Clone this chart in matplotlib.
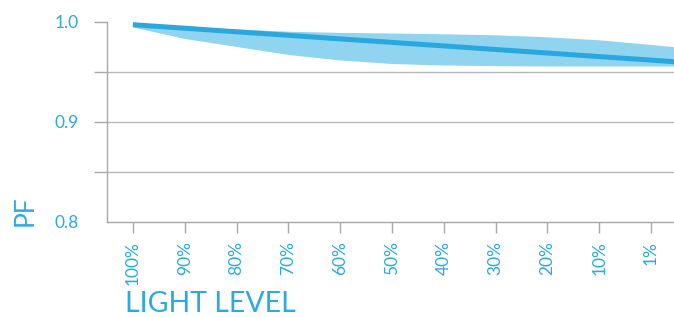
import matplotlib
matplotlib.use("Agg")
import matplotlib.pyplot as plt
import numpy as np

plt.rcParams['font.family'] = ['Lato', 'DejaVu Sans']

# Data; last point is a clipped continuation past the 1% category
categories = ["100%", "90%", "80%", "70%", "60%", "50%", "40%", "30%", "20%", "10%", "1%", ""]
pf_mean  = [0.9973, 0.9938, 0.9902, 0.9867, 0.9831, 0.9796, 0.9761, 0.9725, 0.9690, 0.9654, 0.9619, 0.9583]
pf_upper = [0.9975, 0.9952, 0.9930, 0.9908, 0.9896, 0.9890, 0.9882, 0.9872, 0.9852, 0.9822, 0.9775, 0.9725]
pf_lower = [0.9950, 0.9835, 0.9755, 0.9675, 0.9620, 0.9585, 0.9570, 0.9563, 0.9560, 0.9560, 0.9560, 0.9560]
y_ticks = [0.8, 0.85, 0.9, 0.95, 1.0]
y_tick_labels = ["0.8", "", "0.9", "", "1.0"]

W, H = 674, 317
fig = plt.figure(figsize=(W / 100, H / 100), dpi=100)
ax = fig.add_axes([107 / W, (H - 222) / H, 1 - 107 / W, 200 / H])

blue = "#29a8e0"
band = "#90d4f0"
text_c = "#2aaae2"
grid_c = "#b8b8b8"

x = np.arange(len(categories))
ax.fill_between(x, pf_lower, pf_upper, color=band, linewidth=0, zorder=2)
ax.plot(x, pf_mean, color=blue, linewidth=3.6, solid_capstyle="butt", zorder=3)

ax.set_xlim(-0.5, 10.444)
ax.set_ylim(0.8, 1.0)

ax.set_xticks(x[:11])
ax.set_xticklabels(categories[:11], rotation=90, color=text_c, fontsize=12.5)
ax.set_yticks(y_ticks)
ax.set_yticklabels(y_tick_labels, color=text_c, fontsize=12.5)

ax.tick_params(axis="x", length=8, width=1, color="#a8a8a8", pad=6)
ax.tick_params(axis="y", length=9.4, width=1, color="#a8a8a8", pad=11)
ax.yaxis.get_major_ticks()[0].tick1line.set_visible(False)

for yv in [0.85, 0.9, 0.95]:
    ax.axhline(yv, color=grid_c, linewidth=1.0, zorder=1)

for s in ["top", "right"]:
    ax.spines[s].set_visible(False)
for s in ["left", "bottom"]:
    ax.spines[s].set_color("#a8a8a8")
    ax.spines[s].set_linewidth(1.0)

fig.text(25 / W, (H - 211) / H, "PF", rotation=90, color=text_c, fontsize=19,
         ha="center", va="center")
fig.text(125 / W, (H - 312) / H, "LIGHT LEVEL", color=text_c, fontsize=20.5,
         ha="left", va="baseline")

fig.savefig("out.png", dpi=100)
